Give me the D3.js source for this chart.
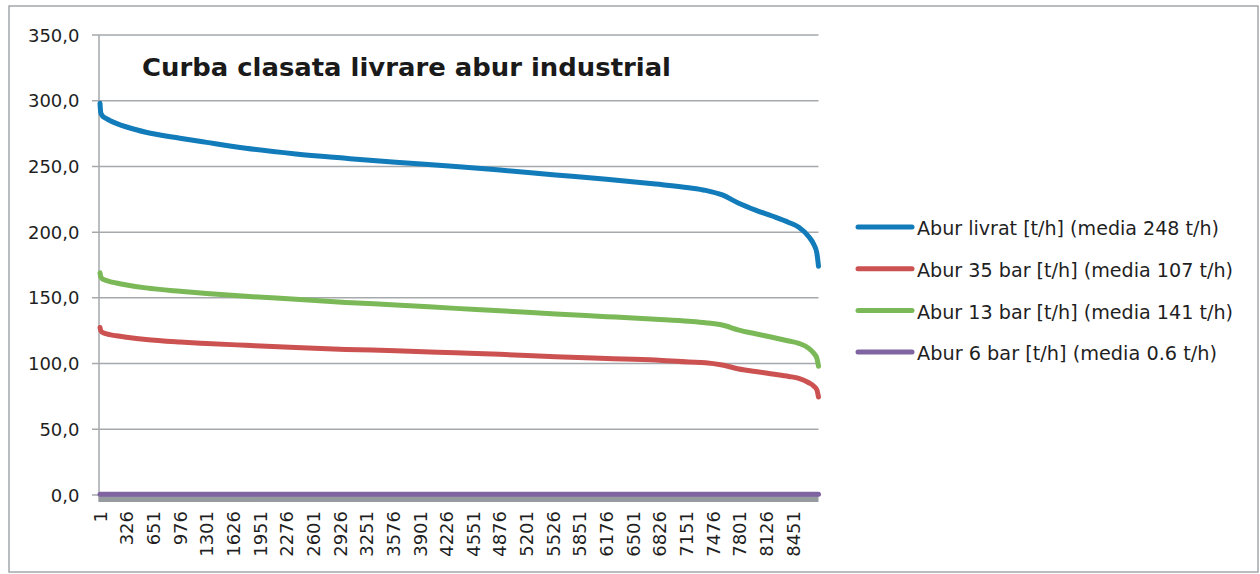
<!DOCTYPE html>
<html>
<head>
<meta charset="utf-8">
<script src="https://cdn.jsdelivr.net/npm/d3@7/dist/d3.min.js"></script>
<style>
  html, body { margin: 0; padding: 0; background: #ffffff; }
  svg { display: block; }
  text { font-family: "DejaVu Sans", Verdana, sans-serif; fill: #1f1f1f; }
</style>
</head>
<body>
<svg id="chart" width="1260" height="574"></svg>
<script>
// ---------------- data ----------------
const title = "Curba clasata livrare abur industrial";

// sampled hours of the duration curve (category index 1..8760)
const hours = [1, 10, 30, 60, 120, 200, 326, 560, 976, 1301, 1779, 2388, 2997, 3606, 4337, 4876,
               5556, 6176, 6774, 7180, 7383, 7587, 7789, 7992, 8195, 8398, 8520, 8642, 8700, 8740, 8760];

const aburLivrat = [298, 291, 288.5, 287, 285, 282.8, 280, 276, 271.5, 268.3, 263.8, 259.5, 256.2, 253.1, 250.0, 247.2,
                    243.5, 240.2, 236.6, 233.8, 231.8, 228.3, 222, 216.8, 212.3, 207.4, 203.7, 196.5, 191, 184, 174];

const abur35 = [127.5, 125, 123.8, 123, 122, 121.1, 120, 118.3, 116.4, 115.3, 113.9, 112.2, 110.8, 109.8, 108.2, 107,
                105.2, 103.9, 102.7, 101.2, 100.7, 98.9, 95.9, 94, 92.1, 90.2, 88.8, 85.4, 83, 80, 74.5];

const abur13 = [169, 166, 164.5, 163.6, 162.4, 161.3, 159.8, 157.6, 155, 153.3, 151.2, 148.9, 146.5, 144.6, 142, 140.2,
                137.7, 135.7, 133.7, 132.2, 131.1, 129.3, 125.5, 122.7, 120, 117.2, 115.4, 111.6, 108, 104, 98];

const abur6 = [0.6, 0.6, 0.6, 0.6, 0.6, 0.6, 0.6, 0.6, 0.6, 0.6, 0.6, 0.6, 0.6, 0.6, 0.6, 0.6,
               0.6, 0.6, 0.6, 0.6, 0.6, 0.6, 0.6, 0.6, 0.6, 0.6, 0.6, 0.6, 0.6, 0.6, 0.6];

const seriesNames = [
  "Abur livrat [t/h] (media 248 t/h)",
  "Abur 35 bar [t/h] (media 107 t/h)",
  "Abur 13 bar [t/h] (media 141 t/h)",
  "Abur 6 bar [t/h] (media 0.6 t/h)"
];
const seriesColors = ["#127bb9", "#cc5251", "#7bb857", "#8064a2"];

const yTicks = [0, 50, 100, 150, 200, 250, 300, 350];
const xTickLabels = [1, 326, 651, 976, 1301, 1626, 1951, 2276, 2601, 2926, 3251, 3576, 3901, 4226,
                     4551, 4876, 5201, 5526, 5851, 6176, 6501, 6826, 7151, 7476, 7801, 8126, 8451];

// ---------------- drawing ----------------
const svg = d3.select("#chart");
const W = 1260, H = 574;
const plot = { left: 99, right: 818.5, top: 35, bottom: 495 };

svg.append("rect").attr("x", 0).attr("y", 0).attr("width", W).attr("height", H).attr("fill", "#ffffff");
svg.append("rect").attr("x", 9).attr("y", 6).attr("width", 1249).attr("height", 566)
   .attr("fill", "#ffffff").attr("stroke", "#a3a8ab").attr("stroke-width", 1.5);

const x = d3.scaleLinear().domain([1, 8760]).range([100, 818.5]);
const y = d3.scaleLinear().domain([0, 350]).range([plot.bottom, plot.top]);

const gridColor = "#a5a9ac";

// horizontal gridlines + tick marks
svg.append("g").selectAll("line").data(yTicks).join("line")
  .attr("x1", 92).attr("x2", plot.right)
  .attr("y1", d => y(d)).attr("y2", d => y(d))
  .attr("stroke", gridColor).attr("stroke-width", 1.5);

// y axis line
svg.append("line").attr("x1", plot.left).attr("x2", plot.left)
  .attr("y1", plot.top).attr("y2", 502)
  .attr("stroke", gridColor).attr("stroke-width", 1.5);

// y tick labels
const fmt = v => d3.format(".1f")(v).replace(".", ",");
svg.append("g").selectAll("text").data(yTicks).join("text")
  .attr("x", 79.5).attr("y", d => y(d) + 6.6)
  .attr("text-anchor", "end").attr("font-size", 18)
  .text(d => fmt(d));

// x axis band (dense category tick marks)
svg.append("rect").attr("x", plot.left).attr("y", y(0))
  .attr("width", plot.right - plot.left).attr("height", 7)
  .attr("fill", "#959b9e");

// x tick labels (rotated)
svg.append("g").selectAll("text").data(xTickLabels).join("text")
  .attr("transform", d => `translate(${x(d) + 6.6},511) rotate(-90)`)
  .attr("text-anchor", "end").attr("font-size", 18)
  .text(d => d);

// series lines
const allSeries = [aburLivrat, abur35, abur13, abur6];
const line = d3.line().x((d, i) => x(hours[i])).y(d => y(d)).curve(d3.curveMonotoneX);
svg.append("g").selectAll("path").data(allSeries).join("path")
  .attr("d", d => line(d))
  .attr("fill", "none")
  .attr("stroke", (d, i) => seriesColors[i])
  .attr("stroke-width", 5)
  .attr("stroke-linecap", "round")
  .attr("stroke-linejoin", "round");

// title
svg.append("text").attr("x", 142).attr("y", 76)
  .attr("font-size", 25).attr("font-weight", "bold")
  .attr("textLength", 529).attr("lengthAdjust", "spacingAndGlyphs")
  .style("fill", "#1a1a1a")
  .text(title);

// legend
const legendY = [227, 268.7, 310.4, 352];
const lg = svg.append("g").selectAll("g").data(seriesNames).join("g")
  .attr("transform", (d, i) => `translate(0,${legendY[i]})`);
lg.append("line").attr("x1", 858).attr("x2", 912).attr("y1", 0).attr("y2", 0)
  .attr("stroke", (d, i) => seriesColors[i]).attr("stroke-width", 5).attr("stroke-linecap", "round");
const legendWidths = [302, 316, 316, 300];
lg.append("text").attr("x", 917).attr("y", 8.3)
  .attr("font-size", 20)
  .attr("textLength", (d, i) => legendWidths[i]).attr("lengthAdjust", "spacingAndGlyphs")
  .text(d => d);
</script>
</body>
</html>
